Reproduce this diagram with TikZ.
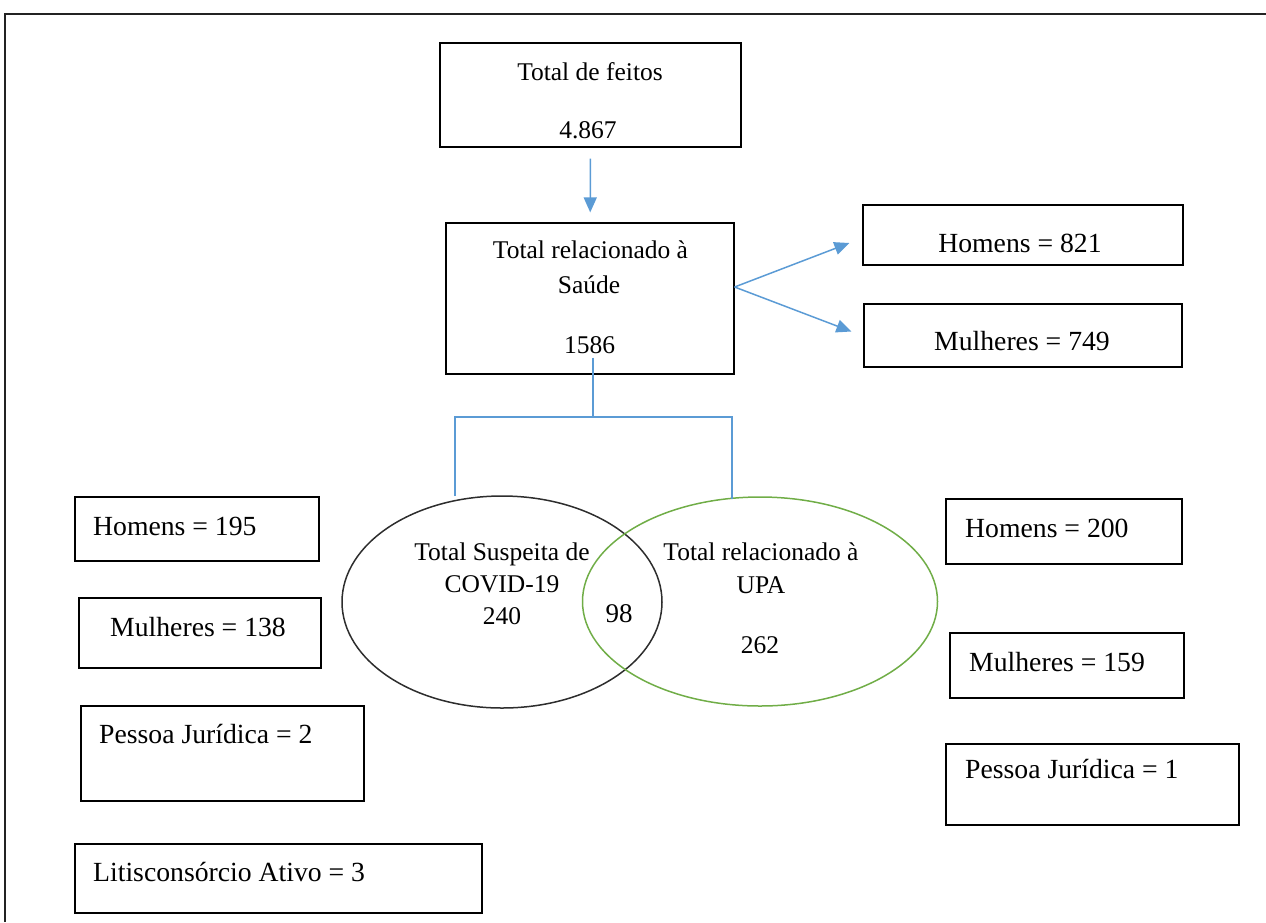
\documentclass[tikz,border=0pt]{standalone}
\usepackage{fontspec}
\setmainfont{Liberation Serif}
\usetikzlibrary{arrows.meta,shapes.geometric}

\definecolor{linkblue}{RGB}{91,155,213}
\definecolor{upagreen}{RGB}{112,173,71}
\definecolor{covidgray}{RGB}{45,45,45}
\definecolor{framegray}{RGB}{35,35,35}

\begin{document}
\begin{tikzpicture}[x=1pt,y=-1pt,
  box/.style={draw=black, line width=1.2pt, inner sep=0pt},
  txt/.style={inner sep=0pt, anchor=base, font=\fontsize{25.5}{30}\selectfont},
  big/.style={inner sep=0pt, anchor=base west, font=\fontsize{27.7}{32}\selectfont},
  link/.style={draw=linkblue, line width=1.5pt},
  tip/.style={link, -{Triangle[length=15pt,width=13pt]}},
  venn/.style={ellipse, line width=1.5pt, inner sep=0pt}]
  \useasboundingbox (0,0) rectangle (1266,922);

  % Moldura
  \draw[line width=2pt, framegray] (5,922) |- (1266,14);

  % Caixas do topo
  \node[box, minimum width=301, minimum height=104] (feitos) at (590.5,95) {};
  \node[txt] (feitostit) at (590,80) {Total de feitos};
  \node[txt] (feitosnum) at (588,138) {4.867};

  \node[box, minimum width=288, minimum height=151] (saude) at (590,298.5) {};
  \node[txt] (saudetit) at (590.5,258) {Total relacionado à};
  \node[txt] (saudetit2) at (589,293) {Saúde};
  \node[txt] (saudenum) at (589.5,353) {1586};

  % Homens e mulheres (saude)
  \node[box, minimum width=320, minimum height=60] (hs) at (1023,235) {};
  \node[big, anchor=base] (hstxt) at (1020,252) {Homens = 821};
  \node[box, minimum width=318, minimum height=63] (ms) at (1023,335.5) {};
  \node[big, anchor=base] (mstxt) at (1022,350) {Mulheres = 749};

  % Diagrama de Venn
  \node[venn, draw=covidgray, minimum width=320, minimum height=212] (covid) at (502,602) {};
  \node[venn, draw=upagreen, minimum width=355, minimum height=209] (upa) at (760,601.5) {};
  \node[txt] (covidtit) at (502,560) {Total Suspeita de};
  \node[txt] (covidtit2) at (502,592) {COVID-19};
  \node[txt] (covidnum) at (502,624) {240};
  \node[txt, font=\fontsize{27}{32}\selectfont] (ambos) at (619,622) {98};
  \node[txt] (upatit) at (761,560) {Total relacionado à};
  \node[txt] (upatit2) at (761,593) {UPA};
  \node[txt] (upanum) at (760,653) {262};

  % Caixas da esquerda (COVID-19)
  \node[box, minimum width=244, minimum height=64] (hcovid) at (197,529) {};
  \node[big] (hcovidtxt) at (93,535) {Homens = 195};
  \node[box, minimum width=242, minimum height=70] (mcovid) at (200,633) {};
  \node[big] (mcovidtxt) at (110,636) {Mulheres = 138};
  \node[box, minimum width=283, minimum height=95] (pjcovid) at (222.5,753.5) {};
  \node[big] (pjcovidtxt) at (99,743) {Pessoa Jurídica = 2};
  \node[box, minimum width=407, minimum height=69] (litis) at (278.5,878.5) {};
  \node[big] (litistxt) at (93,881) {Litisconsórcio Ativo = 3};

  % Caixas da direita (UPA)
  \node[box, minimum width=236, minimum height=65] (hupa) at (1064,531.5) {};
  \node[big] (hupatxt) at (965,537) {Homens = 200};
  \node[box, minimum width=234, minimum height=65] (mupa) at (1067,665.5) {};
  \node[big] (mupatxt) at (969,671) {Mulheres = 159};
  \node[box, minimum width=293, minimum height=81] (pjupa) at (1092.5,784.5) {};
  \node[big] (pjupatxt) at (965,778) {Pessoa Jurídica = 1};

  % Ligacoes
  \draw[tip, shorten <=11pt, shorten >=10pt] (feitos) -- (saude);

  \coordinate (fork) at ([yshift=11.5pt]saude.east);
  \draw[tip] (fork) -- ([xshift=-13pt,yshift=-8pt]hs.west);
  \draw[tip] (fork) -- ([xshift=-12pt,yshift=4pt]ms.west);

  \coordinate (split) at (593,417);
  \coordinate (covidtop) at (455,496);
  \coordinate (upatop) at (732,499);
  \draw[link] ([yshift=17pt]saude.south -| split) -- (split);
  \draw[link] (covidtop) |- (split) -| (upatop);
\end{tikzpicture}
\end{document}
